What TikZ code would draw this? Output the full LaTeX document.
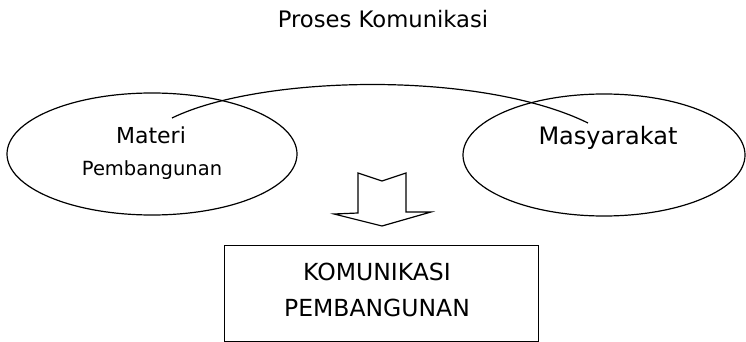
\documentclass[tikz,border=0pt]{standalone}
\usepackage{fontspec}
\setmainfont{DejaVu Sans}
\begin{document}
\begin{tikzpicture}[x=1pt,y=-1pt,
  outline/.style={draw=black,line width=1.2pt},
  lbl/.style={inner sep=0pt,align=center,text=black}]
\useasboundingbox (0,0) rectangle (746,342);
% title
\node[lbl,font=\fontsize{22.7}{26}\selectfont] (title) at (383,19) {Proses Komunikasi};
% ellipses
\draw[outline] (152,154) ellipse [x radius=145, y radius=61];
\draw[outline] (604,155) ellipse [x radius=141, y radius=61];
\node[lbl,font=\fontsize{22}{26}\selectfont] (materi) at (151,135) {Materi};
\node[lbl,font=\fontsize{19.5}{23}\selectfont] (pemb) at (152,170) {Pembangunan};
\node[lbl,font=\fontsize{24}{28}\selectfont] (masy) at (608,138) {Masyarakat};
% connecting curve
\coordinate (cstart) at (172,118);
\coordinate (cend) at (588,123);
\draw[outline] (cstart) .. controls (260,75) and (480,70) .. (cend);
% block arrow
\draw[outline,line join=miter] (358,173) -- (382,181) -- (406,173) -- (406,212) -- (431,212)
  -- (382,226) -- (334,214) -- (358,213) -- cycle;
% box
\node[outline,minimum width=314pt,minimum height=96pt,anchor=north west,inner sep=0pt] (box) at (224,245) {};
\node[lbl,font=\fontsize{23.5}{28}\selectfont] (k1) at (377,272) {KOMUNIKASI};
\node[lbl,font=\fontsize{23.5}{28}\selectfont] (k2) at (377,308) {PEMBANGUNAN};
\end{tikzpicture}
\end{document}
